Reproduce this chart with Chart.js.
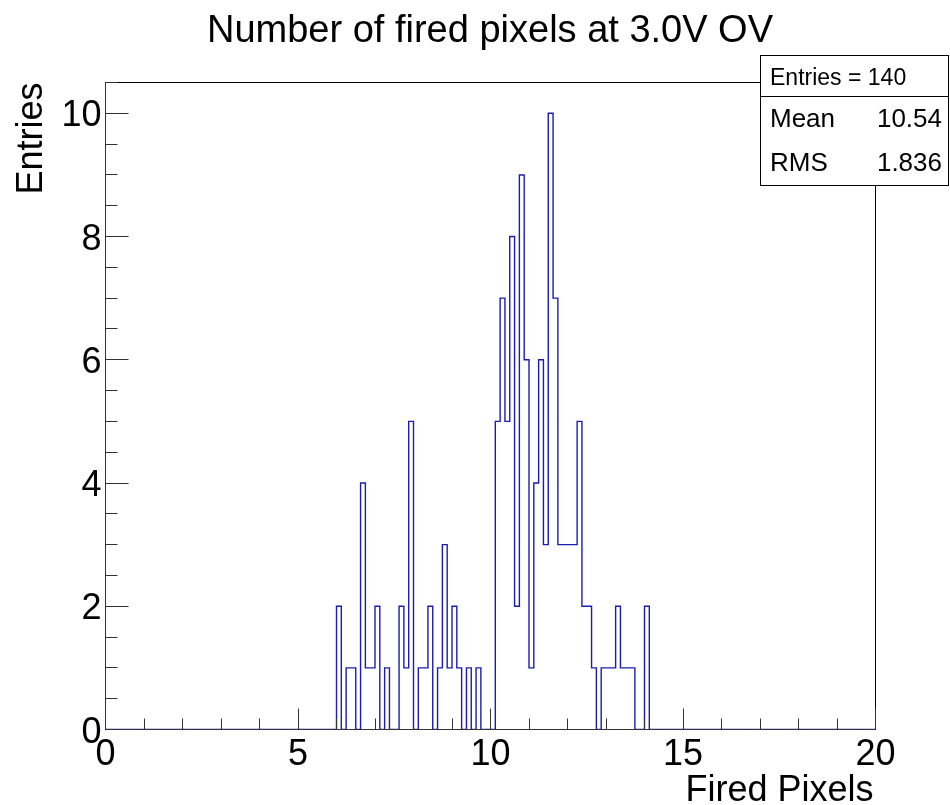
<!DOCTYPE html>
<html>
<head>
<meta charset="utf-8">
<script src="https://cdn.jsdelivr.net/npm/chart.js@4.4.1/dist/chart.umd.min.js"></script>
<style>
  html, body { margin: 0; padding: 0; background: #fff; }
  canvas { display: block; }
</style>
</head>
<body>
<canvas id="hist" width="950" height="805"></canvas>
<script>
// histogram: 160 bins of 0.125 between 0 and 20, only 6.0 .. 14.125 have entries
var xMin = 0
var xMax = 20
var binWidth = 0.125
var firstFilledLow = 6.0
var filledCounts = [
  2, 0, 1, 1, 0, 4, 1, 1,   // 6.0 - 6.875
  2, 0, 1, 0, 0, 2, 1, 5,   // 7.0 - 7.875
  0, 1, 1, 2, 0, 1, 3, 1,   // 8.0 - 8.875
  2, 1, 0, 1, 0, 1, 0, 0,   // 9.0 - 9.875
  0, 5, 7, 5, 8, 2, 9, 6,   // 10.0 - 10.875
  1, 4, 6, 3, 10, 7, 3, 3,  // 11.0 - 11.875
  3, 3, 5, 2, 2, 1, 0, 1,   // 12.0 - 12.875
  1, 1, 2, 1, 1, 1, 0, 0,   // 13.0 - 13.875
  2                         // 14.0
]

var yMax = 10.5
var xTickLabels = [0, 5, 10, 15, 20]
var xMinorStep = 1
var yTickLabels = [0, 2, 4, 6, 8, 10]
var yMinorStep = 0.5

var titleText = 'Number of fired pixels at 3.0V OV'
var xTitle = 'Fired Pixels'
var yTitle = 'Entries'
var statEntries = 140
var statMean = '10.54'
var statRms = '1.836'

var lineColor = '#1c1cb0'
var font = '"Liberation Sans", Arial, Helvetica, sans-serif'

// points at every bin low edge, closed at xMax
var nBins = Math.round((xMax - xMin) / binWidth)
var firstIdx = Math.round((firstFilledLow - xMin) / binWidth)
var points = []
for (var i = 0; i < nBins; i++) {
  var c = 0
  if (i >= firstIdx && i - firstIdx < filledCounts.length) c = filledCounts[i - firstIdx]
  points.push({ x: xMin + i * binWidth, y: c })
}
points.push({ x: xMax, y: 0 })

function line(ctx, x1, y1, x2, y2) {
  ctx.beginPath()
  ctx.moveTo(x1, y1)
  ctx.lineTo(x2, y2)
  ctx.stroke()
}

var rootFrame = {
  id: 'rootFrame',
  afterDatasetsDraw: function (chart) {
    // frame and ticks go over the histogram, like ROOT does
    var ctx = chart.ctx
    var a = chart.chartArea
    var xs = chart.scales.x
    var ys = chart.scales.y
    ctx.save()
    ctx.lineWidth = 1
    ctx.strokeStyle = '#000'
    ctx.strokeRect(a.left, a.top, a.right - a.left, a.bottom - a.top)
    ctx.strokeStyle = '#333'
    line(ctx, a.left, a.bottom, a.right, a.bottom)
    line(ctx, a.left, a.top, a.left, a.bottom)

    // x ticks, pointing up into the frame
    for (var v = xMin; v <= xMax + 1e-9; v += xMinorStep) {
      var px = Math.floor(xs.getPixelForValue(v)) + 0.5
      var major = xTickLabels.indexOf(v) >= 0
      line(ctx, px, a.bottom, px, a.bottom - (major ? 21 : 11))
    }
    // y ticks, pointing right
    for (var w = 0; w <= yMax + 1e-9; w += yMinorStep) {
      var py = Math.floor(ys.getPixelForValue(w)) + 0.5
      var majorY = yTickLabels.indexOf(w) >= 0
      line(ctx, a.left, py, a.left + (majorY ? 23 : 12), py)
    }
    ctx.restore()
  },
  afterDraw: function (chart) {
    var ctx = chart.ctx
    var a = chart.chartArea
    var xs = chart.scales.x
    var ys = chart.scales.y
    ctx.save()
    ctx.fillStyle = '#000'

    // tick labels
    ctx.font = '36px ' + font
    ctx.textBaseline = 'alphabetic'
    ctx.textAlign = 'center'
    xTickLabels.forEach(function (t) {
      ctx.fillText(String(t), xs.getPixelForValue(t), 765)
    })
    ctx.textAlign = 'right'
    yTickLabels.forEach(function (t) {
      ctx.fillText(String(t), a.left - 4, ys.getPixelForValue(t) + 13)
    })

    // axis titles
    ctx.textAlign = 'right'
    ctx.fillText(xTitle, a.right - 2, 801)
    ctx.save()
    ctx.translate(42, a.top)
    ctx.rotate(-Math.PI / 2)
    ctx.fillText(yTitle, 0, 0)
    ctx.restore()

    // title
    ctx.textAlign = 'center'
    ctx.font = '38px ' + font
    ctx.fillText(titleText, 490, 42)

    // stats box
    var bx = 760.5, by = 55.5, bw = 188, bh = 130
    ctx.fillStyle = '#fff'
    ctx.fillRect(bx, by, bw, bh)
    ctx.strokeStyle = '#000'
    ctx.lineWidth = 1
    ctx.strokeRect(bx, by, bw, bh)
    line(ctx, bx, 96.5, bx + bw, 96.5)
    ctx.fillStyle = '#000'
    ctx.textAlign = 'left'
    ctx.font = '23px ' + font
    ctx.fillText('Entries = ' + statEntries, 770, 85)
    ctx.font = '26px ' + font
    ctx.fillText('Mean', 770, 127)
    ctx.fillText('RMS', 770, 171)
    ctx.textAlign = 'right'
    ctx.fillText(statMean, 942, 127)
    ctx.fillText(statRms, 942, 171)
    ctx.restore()
  }
}

var ctx = document.getElementById('hist').getContext('2d')
var chart = new Chart(ctx, {
  type: 'line',
  data: {
    datasets: [{
      label: 'Fired Pixels',
      data: points,
      stepped: 'before',
      borderColor: lineColor,
      borderWidth: 1.4,
      pointRadius: 0,
      fill: false,
      tension: 0
    }]
  },
  options: {
    responsive: false,
    animation: false,
    events: [],
    layout: { padding: { left: 105.5, right: 74.5, top: 82.5, bottom: 75.5 } },
    plugins: {
      legend: { display: false },
      tooltip: { enabled: false },
      title: { display: false }
    },
    scales: {
      x: { type: 'linear', min: xMin, max: xMax, display: false },
      y: { type: 'linear', min: 0, max: yMax, display: false }
    }
  },
  plugins: [rootFrame]
})
</script>
</body>
</html>
